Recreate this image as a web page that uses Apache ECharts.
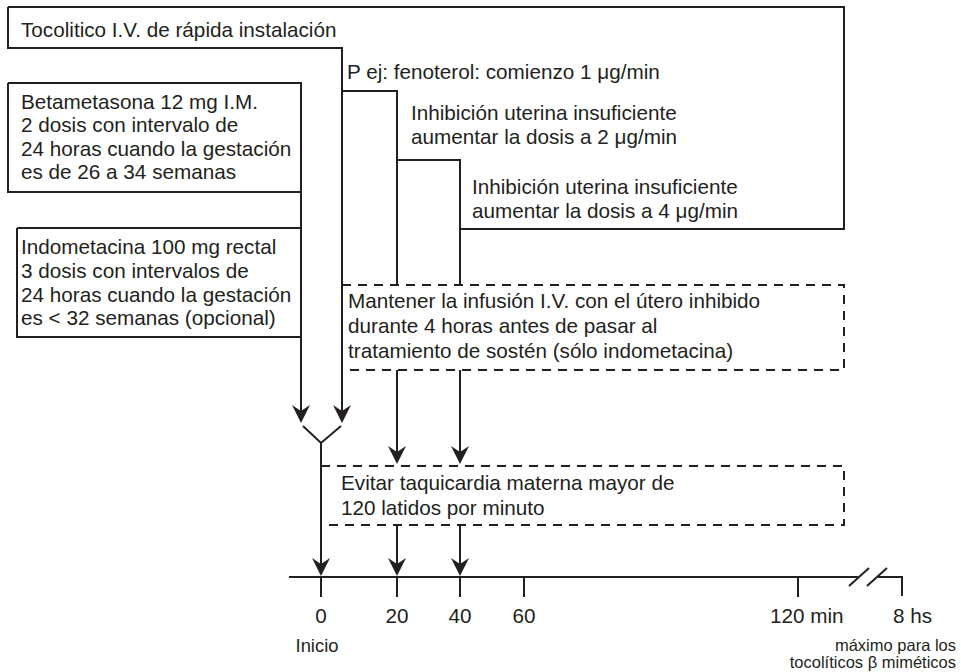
<!DOCTYPE html>
<html>
<head>
<meta charset="utf-8">
<script src="https://cdn.jsdelivr.net/npm/echarts@6/dist/echarts.min.js"></script>
<style>html,body{margin:0;padding:0;background:#fff;}#c{width:961px;height:672px;}</style>
</head>
<body>
<div id="c"></div>
<script>
// ---------- content ----------
const boxTexts = [
  'Tocolitico I.V. de rápida instalación',
  'P ej: fenoterol: comienzo 1 μg/min',
  'Inhibición uterina insuficiente\naumentar la dosis a 2 μg/min',
  'Inhibición uterina insuficiente\naumentar la dosis a 4 μg/min',
  'Betametasona 12 mg I.M.\n2 dosis con intervalo de\n24 horas cuando la gestación\nes de 26 a 34 semanas',
  'Indometacina 100 mg rectal\n3 dosis con intervalos de\n24 horas cuando la gestación\nes < 32 semanas (opcional)',
  'Mantener la infusión I.V. con el útero inhibido\ndurante 4 horas antes de pasar al\ntratamiento de sostén (sólo indometacina)',
  'Evitar taquicardia materna mayor de\n120 latidos por minuto'
];
const tickLabels = ['0', '20', '40', '60', '120 min', '8 hs'];
const startLabel = 'Inicio';
const endNote = 'máximo para los\ntocolíticos β miméticos';

// ---------- layout (diagram units = pixels of the 961x672 canvas) ----------
const textAnchors = [[21,29],[347,71],[411,112],[472,186],[21,101],[21,247],[348,300],[341,482]];
const textLineHeights = [24,24,24,24,23.5,23.6,25,25];
const tickX = [321, 397, 460, 524, 798, 902];
const tickLabelPos = [[321,'center'],[397,'center'],[460,'center'],[524,'center'],[770,'left'],[893,'left']];
const axisY = 577;

const solidPaths = [
  [[8,7],[844,7],[844,229],[460,229],[460,160],[397,160],[397,91],[342,91],[342,48],[8,48],[8,7]],
  [[342,48],[342,412]],
  [[397,160],[397,285]],
  [[460,229],[460,285]],
  [[397,370],[397,453]],
  [[460,370],[460,453]],
  [[8,83],[301,83],[301,192],[8,192],[8,83]],
  [[17,228],[301,228],[301,337],[17,337],[17,228]],
  [[301,192],[301,228]],
  [[301,337],[301,412]],
  [[303,426],[321,443],[341,426]],
  [[321,443],[321,566]],
  [[397,525],[397,566]],
  [[460,525],[460,566]],
  [[289,axisY],[858,axisY]],
  [[849,586],[869,568]],
  [[867,586],[887,568]],
  [[878,axisY],[902,axisY],[902,596]]
];
tickX.slice(0,5).forEach(x => solidPaths.push([[x,axisY],[x,597]]));

const dashedPaths = [
  [[342,285],[844,285],[844,370],[342,370]],
  [[321,466],[844,466],[844,525],[321,525]]
];
const arrowTips = [[301,423],[342,423],[397,464],[460,464],[321,576],[397,576],[460,576]];

const INK = '#231f20';
const FONT = '"Liberation Sans", Arial, sans-serif';

const chart = echarts.init(document.getElementById('c'), null, {renderer: 'svg'});

function pathSeries(paths, dashed) {
  return {
    type: 'custom',
    coordinateSystem: 'cartesian2d',
    silent: true,
    data: paths.map((p, i) => [p[0][0], p[0][1], i]),
    renderItem: function (params, api) {
      const pts = paths[api.value(2)].map(pt => api.coord(pt));
      return {
        type: 'polyline',
        shape: {points: pts},
        style: {stroke: INK, lineWidth: 2, fill: null, lineDash: dashed ? [9, 7] : null}
      };
    }
  };
}

const option = {
  animation: false,
  backgroundColor: '#ffffff',
  grid: {left: 0, right: 0, top: 0, bottom: 0},
  xAxis: {type: 'value', min: 0, max: 961, show: false},
  yAxis: {type: 'value', min: 0, max: 672, inverse: true, show: false},
  series: [
    pathSeries(solidPaths, false),
    pathSeries(dashedPaths, true),
    {
      type: 'custom',
      coordinateSystem: 'cartesian2d',
      silent: true,
      data: arrowTips,
      renderItem: function (params, api) {
        const t = api.coord([api.value(0), api.value(1)]);
        return {
          type: 'polygon',
          shape: {points: [[t[0], t[1]], [t[0]-9, t[1]-18], [t[0], t[1]-12], [t[0]+9, t[1]-18]]},
          style: {fill: INK, stroke: null}
        };
      }
    },
    {
      type: 'custom',
      coordinateSystem: 'cartesian2d',
      silent: true,
      data: textAnchors.map((a, i) => [a[0], a[1], i]),
      renderItem: function (params, api) {
        const i = api.value(2);
        const lh = textLineHeights[i];
        const p = api.coord([api.value(0), api.value(1)]);
        return {
          type: 'text',
          x: p[0], y: p[1] - lh / 2,
          style: {text: boxTexts[i], fill: INK, font: '20.7px ' + FONT, align: 'left', verticalAlign: 'top', lineHeight: lh}
        };
      }
    },
    {
      type: 'custom',
      coordinateSystem: 'cartesian2d',
      silent: true,
      data: tickLabels.map((l, i) => [tickLabelPos[i][0], 615, i]),
      renderItem: function (params, api) {
        const i = api.value(2);
        const p = api.coord([api.value(0), api.value(1)]);
        return {
          type: 'text',
          x: p[0], y: p[1],
          style: {text: tickLabels[i], fill: INK, font: '20.7px ' + FONT, align: tickLabelPos[i][1], verticalAlign: 'middle'}
        };
      }
    },
    {
      type: 'custom',
      coordinateSystem: 'cartesian2d',
      silent: true,
      data: [[317, 645, 0], [956, 636, 1]],
      renderItem: function (params, api) {
        const i = api.value(2);
        const p = api.coord([api.value(0), api.value(1)]);
        return {
          type: 'text',
          x: p[0], y: p[1],
          style: {
            text: i === 0 ? startLabel : endNote, fill: INK,
            font: (i === 0 ? '18.4px ' : '16.5px ') + FONT,
            align: i === 0 ? 'center' : 'right', verticalAlign: i === 0 ? 'middle' : 'top', lineHeight: 17
          }
        };
      }
    }
  ]
};
chart.setOption(option);
</script>
</body>
</html>
